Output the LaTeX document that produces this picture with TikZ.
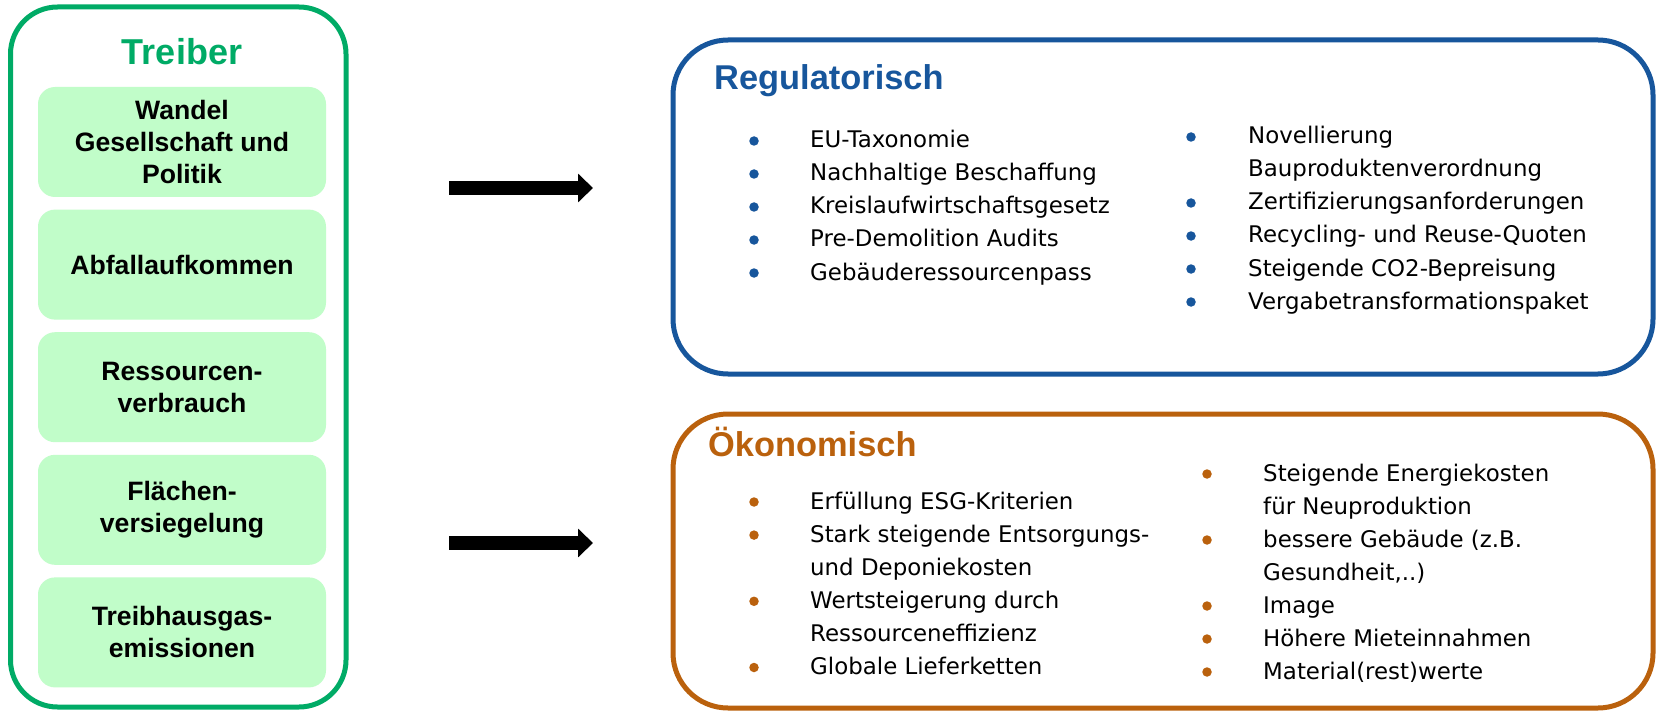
\documentclass[tikz,border=0pt]{standalone}
\usepackage{fontspec}
\setmainfont{Liberation Sans}
\newfontfamily\bodyfont{DejaVu Sans}
\usetikzlibrary{arrows.meta}
\definecolor{tgreen}{HTML}{00AB66}
\definecolor{tfill}{HTML}{C1FDC9}
\definecolor{rblue}{HTML}{17569C}
\definecolor{oorange}{HTML}{BA610D}
\begin{document}
\begin{tikzpicture}[x=1pt,y=-1pt,
  frame/.style={draw=#1, line width=5pt, inner sep=0pt, fill=white},
  drv/.style={fill=tfill, rounded corners=17pt, minimum width=288pt, minimum height=110pt,
    inner sep=0pt, align=center, font=\fontsize{26.6}{32}\selectfont\bfseries},
  ttl/.style={anchor=base west, inner sep=0pt, font=\fontsize{34.4}{40}\selectfont\bfseries, text=#1},
  itm/.style={anchor=base west, inner sep=0pt, font=\bodyfont\fontsize{22.9}{28}\selectfont},
  bul/.style={circle, fill=#1, minimum size=9.5pt, inner sep=0pt},
  bigarrow/.style={line width=14pt, -{Triangle[length=15pt,width=28pt]}}
]
\useasboundingbox (0,0) rectangle (1662,714);
% left frame
\node[frame=tgreen, rounded corners=47pt, minimum width=335.5pt, minimum height=700pt] (treiber) at (178.25,357) {};
\node[anchor=base, inner sep=0pt, text=tgreen, font=\fontsize{36}{40}\selectfont\bfseries] (treiberT) at (182,65) {Treiber};
\node[drv] (d1) at (182,142) {Wandel\\Gesellschaft und\\Politik};
\node[drv] (d2) at (182,264.6) {Abfallaufkommen};
\node[drv] (d3) at (182,387.2) {Ressourcen-\\verbrauch};
\node[drv] (d4) at (182,509.8) {Flächen-\\versiegelung};
\node[drv] (d5) at (182,632.4) {Treibhausgas-\\emissionen};
% arrows
\coordinate (a1s) at (449,188);
\coordinate (a1e) at (593,188);
\coordinate (a2s) at (449,543);
\coordinate (a2e) at (593,543);
\draw[bigarrow] (a1s) -- (a1e);
\draw[bigarrow] (a2s) -- (a2e);
% Regulatorisch
\node[frame=rblue, rounded corners=55pt, minimum width=980pt, minimum height=334pt] (reg) at (1163,207) {};
\node[ttl=rblue] (regT) at (714,90) {Regulatorisch};
\foreach \t [count=\i] in {EU-Taxonomie, Nachhaltige Beschaffung, Kreislaufwirtschaftsgesetz, Pre-Demolition Audits, Gebäuderessourcenpass}{
  \node[itm] (ra\i) at (810,{148+33*(\i-1)}) {\t};
  \node[bul=rblue] (rab\i) at (754,{141+33*(\i-1)}) {};
}
\foreach \t/\b [count=\i] in {Novellierung/1, Bauproduktenverordnung/0, Zertifizierungsanforderungen/1, Recycling- und Reuse-Quoten/1, Steigende CO2-Bepreisung/1, Vergabetransformationspaket/1}{
  \node[itm] (rb\i) at (1248,{144+33*(\i-1)}) {\t};
  \ifnum\b=1 \node[bul=rblue] (rbb\i) at (1191,{137+33*(\i-1)}) {};\fi
}
% Oekonomisch
\node[frame=oorange, rounded corners=55pt, minimum width=980pt, minimum height=294pt] (oek) at (1163,561) {};
\node[ttl=oorange] (oekT) at (708,456) {Ökonomisch};
\foreach \t/\b [count=\i] in {Erfüllung ESG-Kriterien/1, Stark steigende Entsorgungs-/1, und Deponiekosten/0, Wertsteigerung durch/1, Ressourceneffizienz/0, Globale Lieferketten/1}{
  \node[itm] (oa\i) at (810,{509+33.1*(\i-1)}) {\t};
  \ifnum\b=1 \node[bul=oorange] (oab\i) at (754,{502+33.1*(\i-1)}) {};\fi
}
\foreach \t/\b [count=\i] in {Steigende Energiekosten/1, für Neuproduktion/0, bessere Gebäude (z.B./1, {Gesundheit,..)}/0, Image/1, Höhere Mieteinnahmen/1, Material(rest)werte/1}{
  \node[itm] (ob\i) at (1263,{481+33*(\i-1)}) {\t};
  \ifnum\b=1 \node[bul=oorange] (obb\i) at (1207,{474+33*(\i-1)}) {};\fi
}
\end{tikzpicture}
\end{document}
